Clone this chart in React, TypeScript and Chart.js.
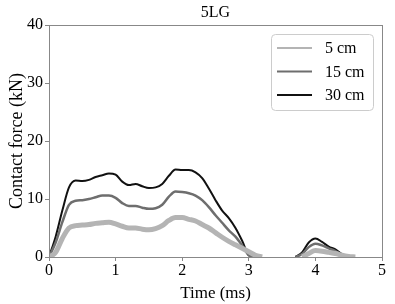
import React, { useEffect, useRef } from "react";
import { Chart, registerables } from "chart.js";

Chart.register(...registerables);

const times = [
  0, 0.1, 0.2, 0.3, 0.4, 0.5, 0.6, 0.7, 0.8, 0.9,
  1.0, 1.1, 1.2, 1.3, 1.4, 1.5, 1.6, 1.7, 1.8, 1.9,
  2.0, 2.1, 2.2, 2.3, 2.4, 2.5, 2.6, 2.7, 2.8, 2.9,
  3.0, 3.1, 3.2, 3.3, 3.4, 3.5, 3.6, 3.7, 3.8, 3.9,
  4.0, 4.1, 4.2, 4.3, 4.4, 4.5, 4.6,
];

// null = no contact (nothing drawn)
const force5cm = [
  0, 0.8, 3.2, 5.0, 5.4, 5.5, 5.6, 5.8, 5.9, 6.0,
  5.7, 5.3, 5.0, 5.0, 4.8, 4.7, 4.9, 5.4, 6.3, 6.8,
  6.8, 6.5, 6.2, 5.6, 5.0, 4.2, 3.4, 2.7, 2.1, 1.5,
  0.9, 0.3, 0, null, null, null, null, null, 0, 0.6,
  1.1, 1.0, 0.8, 0.6, 0.3, 0.1, 0,
];

const force15cm = [
  0, 2.5, 6.0, 9.0, 9.7, 9.8, 10.0, 10.3, 10.6, 10.6,
  10.2, 9.3, 8.8, 8.8, 8.5, 8.3, 8.4, 9.0, 10.4, 11.3,
  11.2, 11.0, 10.6, 9.8, 8.6, 7.2, 5.9, 4.6, 3.5, 2.0,
  0.3, 0, null, null, null, null, null, 0, 0.5, 1.7,
  2.3, 2.0, 1.5, 1.0, 0.4, 0, null,
];

const force30cm = [
  0, 3.5, 8.0, 12.0, 13.2, 13.1, 13.3, 13.8, 14.1, 14.4,
  14.2, 13.0, 12.4, 12.6, 12.2, 11.9, 12.0, 12.6, 14.0, 15.1,
  15.0, 15.0, 14.6, 13.6, 11.8, 9.8, 8.0, 6.7, 5.0, 2.8,
  0.3, 0, null, null, null, null, null, 0, 0.8, 2.5,
  3.2, 2.6, 1.8, 1.3, 0.5, 0, null,
];

const seriesLabels = ["5 cm", "15 cm", "30 cm"];
const seriesValues = [force5cm, force15cm, force30cm];
const seriesColors = ["#b4b4b4", "#6e6e6e", "#111111"];
const seriesWidths = [5, 2.5, 2];

const xTicks = [0, 1, 2, 3, 4, 5];
const yTicks = [0, 10, 20, 30, 40];
const chartTitle = "5LG";
const xTitle = "Time (ms)";
const yTitle = "Contact force (kN)";

const FONT = "'Liberation Serif', 'Times New Roman', serif";

const framePlugin = {
  id: "frame",
  afterDatasetsDraw(chart: any) {
    const { ctx, chartArea: a } = chart;
    ctx.save();
    ctx.strokeStyle = "#888";
    ctx.lineWidth = 1;
    ctx.strokeRect(Math.round(a.left) + 0.5, Math.round(a.top) + 0.5, Math.round(a.right - a.left), Math.round(a.bottom - a.top));
    ctx.restore();
  },
  afterDraw(chart: any) {
    const { ctx, chartArea: a } = chart;
    ctx.save();
    // title
    ctx.fillStyle = "#000";
    ctx.font = `16px ${FONT}`;
    ctx.textAlign = "center";
    ctx.textBaseline = "middle";
    ctx.fillText(chartTitle, (a.left + a.right) / 2, 13);
    // legend box
    const bx = 271.5, by = 34.5, bw = 102, bh = 76, r = 4;
    ctx.beginPath();
    ctx.moveTo(bx + r, by);
    ctx.lineTo(bx + bw - r, by);
    ctx.arcTo(bx + bw, by, bx + bw, by + r, r);
    ctx.lineTo(bx + bw, by + bh - r);
    ctx.arcTo(bx + bw, by + bh, bx + bw - r, by + bh, r);
    ctx.lineTo(bx + r, by + bh);
    ctx.arcTo(bx, by + bh, bx, by + bh - r, r);
    ctx.lineTo(bx, by + r);
    ctx.arcTo(bx, by, bx + r, by, r);
    ctx.closePath();
    ctx.fillStyle = "rgba(255,255,255,0.85)";
    ctx.fill();
    ctx.strokeStyle = "#cccccc";
    ctx.lineWidth = 1;
    ctx.stroke();
    chart.data.datasets.forEach((ds: any, i: number) => {
      const y = 48 + i * 23.5;
      ctx.beginPath();
      ctx.moveTo(277, y);
      ctx.lineTo(312, y);
      ctx.strokeStyle = ds.borderColor;
      ctx.lineWidth = 2;
      ctx.stroke();
      ctx.fillStyle = "#000";
      ctx.font = `16px ${FONT}`;
      ctx.textAlign = "left";
      ctx.textBaseline = "middle";
      ctx.fillText(ds.label, 325, y + 1);
    });
    ctx.restore();
  },
};

export default function App() {
  const ref = useRef<HTMLCanvasElement>(null);
  useEffect(() => {
    document.body.style.margin = "0";
    const canvas = ref.current!;
    const chart = new Chart(canvas, {
      type: "line",
      data: {
        datasets: seriesLabels.map((label, i) => ({
          label,
          data: times.map((t, j) => ({ x: t, y: seriesValues[i][j] })),
          borderColor: seriesColors[i],
          borderWidth: seriesWidths[i],
          pointRadius: 0,
          fill: false,
          spanGaps: false,
          cubicInterpolationMode: "monotone" as const,
        })),
      },
      options: {
        responsive: false,
        animation: false,
        devicePixelRatio: 1,
        layout: { padding: { left: 0, top: 25, right: 13, bottom: 0 } },
        plugins: {
          legend: { display: false },
          title: { display: false },
          tooltip: { enabled: false },
        },
        scales: {
          x: {
            type: "linear",
            min: 0,
            max: 5,
            afterBuildTicks: (s: any) => { s.ticks = xTicks.map((v) => ({ value: v })); },
            afterFit: (s: any) => { s.height = 47; },
            ticks: { color: "#000", font: { family: FONT, size: 16 }, padding: 0, maxRotation: 0 },
            grid: { drawOnChartArea: false, drawTicks: true, tickLength: 4, color: "#888" },
            border: { display: true, color: "#888" },
            title: { display: true, text: xTitle, color: "#000", font: { family: FONT, size: 17 }, padding: { top: 9, bottom: 0 } },
          },
          y: {
            type: "linear",
            min: 0,
            max: 40,
            afterBuildTicks: (s: any) => { s.ticks = yTicks.map((v) => ({ value: v })); },
            afterFit: (s: any) => { s.width = 49; },
            ticks: { color: "#000", font: { family: FONT, size: 16 }, padding: 2 },
            grid: { drawOnChartArea: false, drawTicks: true, tickLength: 4, color: "#888" },
            border: { display: true, color: "#888" },
            title: { display: true, text: yTitle, color: "#000", font: { family: FONT, size: 18 }, padding: { top: 6, bottom: 0 } },
          },
        },
      },
      plugins: [framePlugin],
    });
    return () => chart.destroy();
  }, []);
  return (
    <div style={{ position: "absolute", left: 0, top: 0, width: 395, height: 304, background: "#fff" }}>
      <canvas ref={ref} width={395} height={304} style={{ width: 395, height: 304 }} />
    </div>
  );
}
